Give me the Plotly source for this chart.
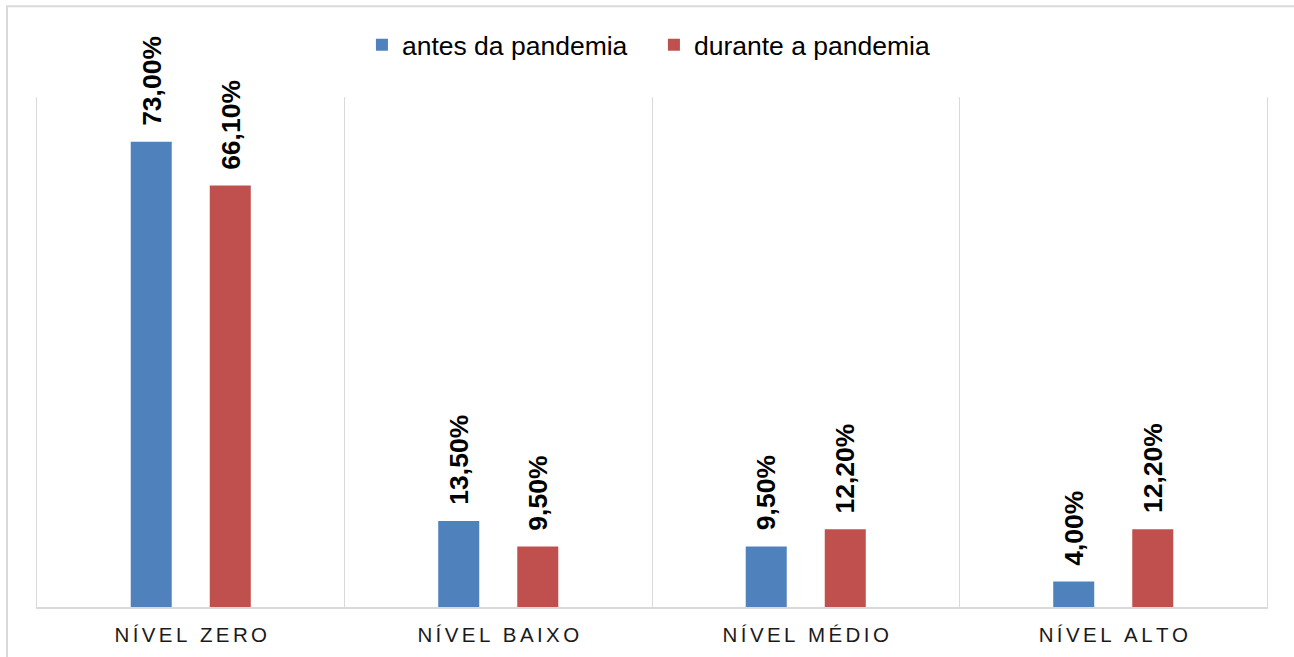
import plotly.graph_objects as go

categories = ["NÍVEL ZERO", "NÍVEL BAIXO", "NÍVEL MÉDIO", "NÍVEL ALTO"]
antes = [73.0, 13.5, 9.5, 4.0]
durante = [66.1, 9.5, 12.2, 12.2]
series_names = ["antes da pandemia", "durante a pandemia"]
colors = ["#4F81BD", "#C0504D"]

FONT = "Liberation Sans, Arial, sans-serif"
SP = "\u2006"


def spaced(s):
    return SP.join(list(s))


def fmt(v):
    return f"{v:.2f}".replace(".", ",") + "%"


fig = go.Figure()
for name, vals, col in zip(series_names, [antes, durante], colors):
    fig.add_trace(go.Bar(
        x=categories, y=vals, name=name,
        marker=dict(color=col, line=dict(width=0)),
    ))

# value labels as rotated annotations above each bar
offset = 0.1285
annotations = []
for si, vals in enumerate([antes, durante]):
    for ci, v in enumerate(vals):
        annotations.append(dict(
            x=ci + (-offset if si == 0 else offset), y=v,
            xref="x", yref="y",
            text="<b>" + fmt(v) + "</b>",
            textangle=-90, showarrow=False,
            xanchor="center", yanchor="bottom", yshift=14,
            font=dict(family=FONT, size=26.5, color="#000000"),
        ))

fig.update_layout(
    width=1294, height=657,
    margin=dict(l=37, r=27, t=97, b=50, autoexpand=False),
    paper_bgcolor="white", plot_bgcolor="white",
    barmode="group", bargap=0.486, bargroupgap=0.481,
    font=dict(family=FONT, size=26, color="#000000"),
    showlegend=True,
    legend=dict(
        orientation="h", xref="container", yref="container",
        x=0.2797, xanchor="left", y=0.9315, yanchor="middle",
        font=dict(family=FONT, size=26.5, color="#000000"),
        itemwidth=30, traceorder="normal",
        entrywidth=247, entrywidthmode="pixels",
        bgcolor="rgba(0,0,0,0)",
    ),
    annotations=annotations,
    shapes=[dict(
        type="rect", xref="paper", yref="paper",
        x0=-0.0244, x1=1.2, y0=-0.4, y1=1.178,
        line=dict(color="#D9D9D9", width=2), layer="below",
    )],
)

fig.update_xaxes(
    type="category",
    tickmode="array", tickvals=categories,
    ticktext=[spaced(c) for c in categories],
    tickson="boundaries", ticks="",
    showgrid=True, gridcolor="#D9D9D9", gridwidth=1,
    showline=True, linecolor="#D9D9D9", linewidth=2,
    tickfont=dict(family=FONT, size=20.5, color="#1A1A1A"),
    ticklabelstandoff=8,
)
fig.update_yaxes(
    range=[0, 80], showticklabels=False, showgrid=False, zeroline=False,
    showline=True, mirror=True, linecolor="#D9D9D9", linewidth=1, ticks="",
)

fig.write_html("out.html")
